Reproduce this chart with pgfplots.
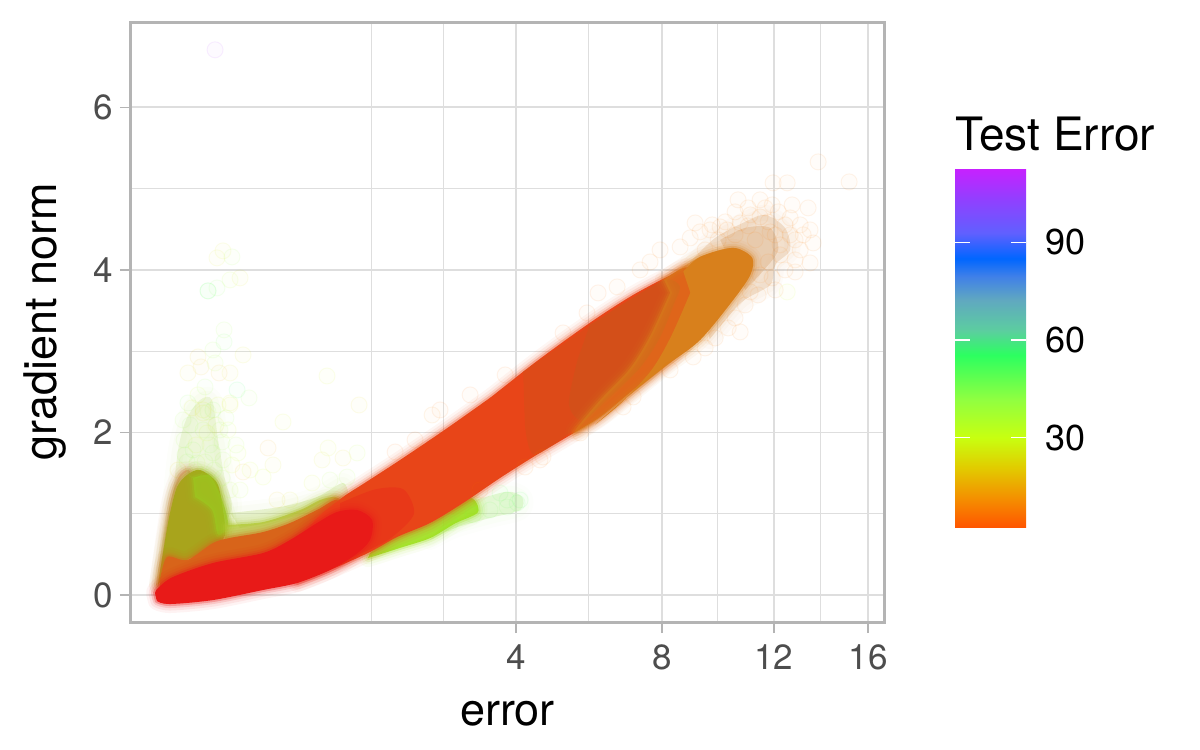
\documentclass[border=0pt]{standalone}
\usepackage{pgfplots}
\usepackage{pgfplotstable}
\usepackage{fontspec}
\setmainfont{TeX Gyre Heros}
\pgfplotsset{compat=1.18}
\definecolor{cRed}{HTML}{E81A18}
\definecolor{cBand}{HTML}{E84518}
\definecolor{cDark}{HTML}{D0521A}
\definecolor{cOrange}{HTML}{D8801C}
\definecolor{cOrTwo}{HTML}{D8641A}
\definecolor{cOlive}{HTML}{A8A41C}
\definecolor{cGreen}{HTML}{9CC820}
\definecolor{cGreenB}{HTML}{B0C830}
\definecolor{cLow}{HTML}{A0E020}
\definecolor{cPaleG}{HTML}{C8E090}
\definecolor{cPaleL}{HTML}{C8F0A8}
\definecolor{cTail}{HTML}{D8A878}
\definecolor{cEdge}{HTML}{D8805A}
\definecolor{gridc}{HTML}{DEDEDE}
\definecolor{panelc}{HTML}{B4B4B4}
\definecolor{tickc}{HTML}{4D4D4D}
% x column is sqrt(error): the axis is square-root scaled
\pgfplotstableread{
x y
.773 .677
.869 .948
1.017 1.206
1.131 1.366
1.324 1.637
1.585 2.018
1.835 2.4
1.909 2.523
2.097 2.843
2.29 3.151
2.477 3.434
2.665 3.692
2.858 3.914
2.989 4.025
3.102 3.631
2.932 3.015
2.858 2.855
2.665 2.523
2.477 2.191
2.29 1.945
2.097 1.698
1.909 1.44
1.699 1.132
1.511 .886
1.324 .714
1.17 .529
.943 .308
.756 .148
}\pband
\pgfplotstableread{
x y
1.0 1.13
1.2 1.3
1.36 1.3
1.42 1.0
1.3 .72
1.17 .56
1.0 .4
}\predtwo
\pgfplotstableread{
x y
2.04 2.75
2.29 3.12
2.477 3.40
2.665 3.66
2.85 3.88
2.93 3.80
2.90 3.6
2.818 3.175
2.705 2.8
2.534 2.43
2.307 2.0
2.1 1.73
2.05 2.1
}\pdarka
\pgfplotstableread{
x y
2.42 3.33
2.477 3.40
2.665 3.66
2.85 3.88
2.93 3.80
2.90 3.6
2.818 3.175
2.705 2.8
2.534 2.45
2.38 2.15
2.3 2.35
2.35 2.9
}\pdarkb
\pgfplotstableread{
x y
2.84 3.88
3.045 4.16
3.233 4.271
3.341 4.148
3.33 3.938
3.233 3.631
3.045 3.138
2.858 2.831
2.665 2.498
2.477 2.178
2.33 2.0
2.47 2.38
2.645 2.78
2.76 3.18
2.875 3.72
}\porangea
\pgfplotstableread{
x y
2.95 3.98
3.045 4.16
3.233 4.271
3.341 4.148
3.33 3.938
3.233 3.631
3.045 3.138
2.858 2.831
2.665 2.498
2.45 2.1
2.6 2.37
2.77 2.77
2.88 3.18
2.99 3.72
}\porangeb
\pgfplotstableread{
x y
-.051 .025
-.034 .086
.051 .222
.278 .394
.563 .517
.716 .677
.869 .886
.983 1.022
1.097 1.046
1.182 .923
1.17 .677
1.085 .492
.943 .308
.756 .148
.563 .062
.278 -.062
.034 -.111
-.04 -.074
}\pred
\pgfplotstableread{
x y
-.023 .185
.017 .468
.131 .431
.278 .64
.375 .702
.563 .775
.716 .886
.869 1.046
.983 1.169
1.0 .923
.716 .615
.278 .308
-.023 0
}\portwo
\pgfplotstableread{
x y
-.034 .123
.006 .677
.034 1.009
.074 1.329
.131 1.477
.205 1.538
.301 1.378
.335 1.046
.347 .738
.278 .578
.131 .431
.006 .246
}\polive
\pgfplotstableread{
x y
-.034 .123
.034 1.12
.091 1.477
.148 1.514
.08 1.046
.023 .431
}\pedge
\pgfplotstableread{
x y
.165 1.44
.261 1.465
.33 1.169
.364 .862
.307 .738
.273 1.046
.176 1.206
}\pgreen
\pgfplotstableread{
x y
.347 .862
.563 .898
.773 1.046
.886 1.169
.972 1.206
1.0 1.108
.773 .825
.563 .738
.347 .677
}\pgreenb
\pgfplotstableread{
x y
.375 1.009
.659 1.083
.869 1.206
1.017 1.378
1.028 1.169
.773 .985
.432 .825
}\ppaleg
\pgfplotstableread{
x y
1.17 .517
1.341 .763
1.568 .985
1.739 1.194
1.784 1.02
1.653 .88
1.511 .70
1.341 .58
1.227 .50
1.159 .455
}\plow
\pgfplotstableread{
x y
1.682 1.108
1.938 1.268
2.034 1.206
2.023 1.046
1.852 .948
1.653 .825
1.511 .677
}\ppalel
\pgfplotstableread{
x y
.045 1.108
.08 1.785
.125 2.154
.205 2.4
.273 2.4
.307 1.908
.347 1.415
.386 1.108
.347 .923
.205 .923
}\pspike
\pgfplotstableread{
x y
2.989 4.098
3.131 4.394
3.301 4.591
3.415 4.677
3.528 4.517
3.557 4.246
3.472 4.062
3.443 3.815
3.28 3.6
3.10 3.15
}\ptail
\pgfplotstableread{
x y
3.159 4.369
3.301 4.517
3.443 4.517
3.489 4.246
3.398 3.975
3.301 3.754
}\ptailb
% outlying points: sqrt(error), gradient norm, test error
\pgfplotstableread{
x y m
.29 6.708 108
.335 4.234 25
.301 4.148 25
.386 4.16 40
.25 3.742 50
.25 3.742 50
.301 3.778 45
.432 3.902 25
.375 3.877 35
.341 3.262 40
.341 3.114 48
.449 2.954 25
.278 3.015 40
.193 2.929 20
.29 2.855 38
.313 2.732 15
.21 2.806 18
.136 2.732 22
.375 2.732 25
.415 2.523 55
.483 2.425 40
.375 2.363 28
.233 2.56 42
.222 2.277 25
.136 2.363 45
.926 2.695 28
1.108 2.338 22
.278 2.277 45
.676 2.129 28
.375 2.338 25
.591 1.809 15
.932 1.809 28
.619 1.6 25
.898 1.662 25
1.017 1.686 22
1.097 1.748 35
1.523 2.215 10
.449 1.514 15
.563 1.452 30
.841 1.378 28
.716 1.169 25
.375 1.292 35
.42 1.748 30
.943 1.415 38
1.04 1.452 38
.642 1.169 20
.222 2.24 25
.165 1.785 45
.244 1.994 30
.318 2.031 40
.108 2.154 40
.278 1.748 42
.188 1.625 35
.119 1.723 42
.335 1.662 40
.114 1.908 40
.148 2.092 42
.182 1.846 28
.222 2.031 38
.261 1.846 42
.295 2.092 25
.33 1.883 40
.364 2.031 30
.131 1.637 42
.176 1.538 40
.233 1.637 38
.284 1.538 42
.33 1.44 40
.386 1.6 30
.432 1.292 35
.193 2.462 30
.25 2.252 40
.307 2.338 28
.352 2.178 42
.159 2.302 25
.08 1.538 20
.409 1.846 38
.489 1.538 30
1.949 1.169 50
2.023 1.169 52
1.909 1.255 50
1.949 1.083 48
1.756 .985 45
1.852 1.046 48
1.625 .886 44
2.006 1.132 50
3.716 5.329 8
3.892 5.083 8
3.46 5.071 8
3.54 5.071 8
3.455 4.8 8
3.568 4.8 8
3.659 4.763 8
3.261 4.862 8
3.017 4.578 8
3.102 4.492 8
3.159 4.529 8
2.932 4.283 8
3.386 4.652 8
3.33 4.677 8
3.273 4.578 8
3.199 4.492 8
3.67 4.492 8
3.688 4.332 8
3.67 4.086 8
3.54 3.729 30
3.273 3.237 8
3.006 2.929 8
2.875 2.769 8
2.665 2.437 8
2.608 2.314 8
2.364 1.994 8
2.153 1.698 8
2.051 1.575 8
2.466 3.717 6
2.574 3.791 8
2.403 3.471 6
2.267 3.225 6
3.5 4.308 8
3.585 4.123 8
3.472 3.754 8
3.557 4.431 8
3.443 4.468 8
3.614 4.554 8
3.386 4.862 8
2.761 4.098 8
2.818 4.246 8
2.705 4.0 8
1.938 2.708 6
1.739 2.462 6
1.568 2.277 6
1.426 1.908 6
1.313 1.76 6
1.795 1.292 6
2.136 1.662 6
3.074 4.246 8
3.148 4.369 8
3.188 4.591 8
3.244 4.431 8
3.318 4.542 8
3.358 4.369 8
3.432 4.591 8
3.472 4.431 8
3.528 4.554 8
3.585 4.369 8
3.5 4.185 8
3.432 4.098 8
3.386 3.938 8
3.455 3.902 8
3.528 4.0 8
3.33 3.729 8
3.301 3.569 8
3.375 3.692 8
3.244 3.409 8
3.205 3.286 8
3.131 3.163 8
3.074 3.04 8
2.989 4.394 8
3.045 4.468 8
3.114 4.554 8
3.244 4.714 8
3.318 4.763 8
3.415 4.763 8
3.489 4.714 8
3.557 4.64 8
3.614 4.246 8
3.631 4.431 8
3.585 3.975 8
}\fringe
\newcommand{\soft}[3]{%
  \addplot[smooth,mark=none,draw=#2,draw opacity=.05,line width=9pt,line join=round,fill=none,forget plot] table {#1} --cycle;
  \addplot[smooth,mark=none,draw=#2,draw opacity=.08,line width=6.5pt,line join=round,fill=none,forget plot] table {#1} --cycle;
  \addplot[smooth,mark=none,draw=#2,draw opacity=.14,line width=4pt,line join=round,fill=none,forget plot] table {#1} --cycle;
  \addplot[smooth,mark=none,draw=#2,draw opacity=.28,line width=2pt,line join=round,fill=#2,fill opacity=#3,forget plot] table {#1} --cycle;
}
\newcommand{\softlight}[3]{%
  \addplot[smooth,mark=none,draw=#2,draw opacity=.04,line width=10pt,line join=round,fill=none,forget plot] table {#1} --cycle;
  \addplot[smooth,mark=none,draw=#2,draw opacity=.06,line width=6pt,line join=round,fill=none,forget plot] table {#1} --cycle;
  \addplot[smooth,mark=none,draw=none,fill=#2,fill opacity=#3,forget plot] table {#1} --cycle;
}
\newcommand{\layer}[3]{%
  \addplot[smooth,mark=none,draw=none,fill=#2,fill opacity=#3,forget plot] table {#1} --cycle;
}
\begin{document}
\begin{tikzpicture}
\path[use as bounding box] (-65.5pt,-64pt) rectangle (534.5pt,311pt);
\begin{axis}[
  scale only axis,
  width=376.5pt,height=300pt,
  xmin=-0.1875,xmax=4.09,ymin=-0.332,ymax=7.05,
  xtick={2,2.828,3.464,4},xticklabels={4,8,12,16},
  minor xtick={1.176,1.588,2.414,3.146,3.732},
  ytick={0,2,4,6},minor ytick={1,3,5},
  grid=both,
  major grid style={draw=gridc,line width=.9pt},
  minor grid style={draw=gridc,line width=.5pt},
  axis line style={draw=panelc,line width=1.5pt},
  tick pos=lower,
  major tick length=5.5pt,minor tick length=0pt,
  tick style={draw=panelc,line width=.8pt},
  tick align=outside,
  ticklabel style={font=\fontsize{17.5}{19}\selectfont,text=tickc},
  xticklabel style={yshift=-2.5pt},
  /pgf/number format/assume math mode=true,
  xlabel={error},ylabel={gradient norm},
  every axis x label/.style={at={(axis description cs:0.5,-0.153)},anchor=center,font=\fontsize{22.5}{24}\selectfont},
  every axis y label/.style={at={(axis description cs:-0.114,0.5)},anchor=center,rotate=90,font=\fontsize{22.5}{24}\selectfont},
  colormap={testerror}{
    rgb255(2.4pt)=(255,85,0);
    rgb255(10.9pt)=(245,140,0);
    rgb255(21.1pt)=(225,205,0);
    rgb255(30pt)=(200,255,16);
    rgb255(41.6pt)=(145,255,64);
    rgb255(55.4pt)=(44,255,96);
    rgb255(63pt)=(92,205,160);
    rgb255(72.3pt)=(96,168,192);
    rgb255(79.5pt)=(64,128,232);
    rgb255(85pt)=(0,102,255);
    rgb255(92.8pt)=(96,96,255);
    rgb255(103pt)=(144,64,255);
    rgb255(112.7pt)=(200,32,255)
  },
  point meta min=2.4,point meta max=112.7,
  colorbar,
  /pgfplots/colorbar/width=35.5pt,
  colorbar style={
    at={(1.0943,0.1572)},anchor=south west,
    scale only axis,
    height=179.7pt,
    ytick={30,60,90},
    ytick pos=both,yticklabel pos=right,
    tick align=inside,
    major tick length=7.3pt,
    tick style={draw=white,line width=.6pt},
    axis line style={draw=none},
    yticklabel style={font=\fontsize{18}{20}\selectfont,text=black,/pgf/number format/assume math mode=true,xshift=6pt},
  },
]
% pale outer clouds
\softlight{\pspike}{cPaleG}{.28}
\softlight{\ppaleg}{cPaleG}{.4}
\softlight{\ppalel}{cPaleL}{.45}
\softlight{\ptail}{cTail}{.3}
\layer{\ptailb}{cTail}{.4}
% outlying points
\addplot[scatter,only marks,scatter src=explicit,mark=*,mark size=4pt,
  scatter/use mapped color={draw=mapped color,fill=mapped color},
  mark options={fill opacity=.025,draw opacity=.08,line width=.5pt}]
  table[x=x,y=y,meta=m] {\fringe};
% dense core of the cloud
\soft{\plow}{cLow}{.9}
\soft{\pedge}{cEdge}{.45}
\soft{\polive}{cOlive}{1}
\soft{\pgreen}{cGreen}{.7}
\soft{\pgreenb}{cGreenB}{.7}
\soft{\portwo}{cOrTwo}{1}
\soft{\pband}{cBand}{1}
\layer{\pdarka}{cDark}{.45}
\layer{\pdarkb}{cDark}{.7}
\soft{\porangea}{cOrange}{.55}
\layer{\porangeb}{cOrange}{1}
\layer{\predtwo}{cRed}{.3}
\soft{\pred}{cRed}{1}
\addplot[only marks,mark=*,mark size=4pt,draw=cRed,fill=cRed] coordinates {(0,0) (0.03,0.02) (0.1,0.03) (0.2,0.05)};
\end{axis}
\node[anchor=base west,font=\fontsize{23}{25}\selectfont,inner sep=0pt] at (412pt,235.5pt) {Test Error};
\end{tikzpicture}
\end{document}
